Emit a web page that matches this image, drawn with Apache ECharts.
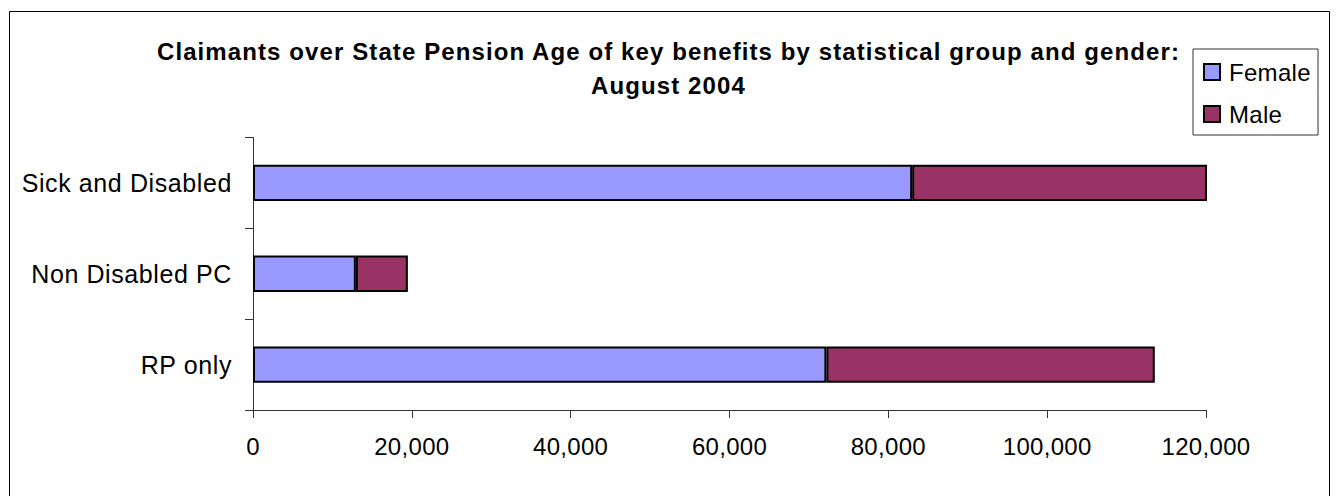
<!DOCTYPE html>
<html>
<head>
<meta charset="utf-8">
<script src="https://cdn.jsdelivr.net/npm/echarts@6/dist/echarts.min.js"></script>
<style>
html,body{margin:0;padding:0;background:#fff;}
#chart{width:1337px;height:496px;}
#chart text{letter-spacing:0.3px;}
</style>
</head>
<body>
<div id="chart"></div>
<script>
var categories = ['RP only', 'Non Disabled PC', 'Sick and Disabled'];
var femaleValues = [72200, 12950, 83000];
var maleValues = [41350, 6550, 38000];
var seriesNames = ['Female', 'Male'];
var xTicks = {min: 0, max: 120000, interval: 20000};
var titleLines = ['Claimants over State Pension Age of key benefits by statistical group and gender:', 'August 2004'];

var chart = echarts.init(document.getElementById('chart'), null, {renderer: 'svg'});
var font = 'Liberation Sans, Arial, sans-serif';
var option = {
  backgroundColor: '#fff',
  animation: false,
  textStyle: {fontFamily: font},
  title: {
    text: titleLines.join('\n'),
    left: 'center',
    top: 29,
    textStyle: {fontFamily: font, fontSize: 24, fontWeight: 'bold', color: '#000', lineHeight: 34}
  },
  legend: {
    orient: 'vertical',
    left: 1193,
    top: 49,
    width: 128,
    padding: [11, 9, 9, 10],
    itemGap: 18,
    itemWidth: 16,
    itemHeight: 16,
    icon: 'rect',
    borderColor: '#333',
    borderWidth: 1,
    backgroundColor: '#fff',
    textStyle: {fontFamily: font, fontSize: 24, color: '#000', padding: [0, 0, 0, 4]},
    data: seriesNames
  },
  graphic: [{
    type: 'rect',
    shape: {x: 9.5, y: 11.5, width: 1320, height: 500},
    style: {fill: 'none', stroke: '#000', lineWidth: 1},
    silent: true,
    z: -1
  }],
  grid: {left: 253, right: 131, top: 137.5, bottom: 86, containLabel: false},
  xAxis: {
    type: 'value',
    min: xTicks.min,
    max: xTicks.max,
    interval: xTicks.interval,
    axisLine: {show: true, lineStyle: {color: '#333', width: 1}},
    axisTick: {show: true, length: 8, lineStyle: {color: '#333'}},
    splitLine: {show: false},
    axisLabel: {
      fontFamily: font, fontSize: 24, color: '#000', margin: 24,
      formatter: function (v) { return v.toLocaleString('en-US'); }
    }
  },
  yAxis: {
    type: 'category',
    data: categories,
    axisLine: {show: true, lineStyle: {color: '#333', width: 1}},
    axisTick: {show: true, length: 8, lineStyle: {color: '#333'}},
    axisLabel: {fontFamily: font, fontSize: 25, color: '#000', margin: 21}
  },
  series: [{
    name: seriesNames[0],
    type: 'bar',
    stack: 'total',
    barWidth: '40%',
    data: femaleValues,
    itemStyle: {color: '#9999FF', borderColor: '#000', borderWidth: 2}
  }, {
    name: seriesNames[1],
    type: 'bar',
    stack: 'total',
    barWidth: '40%',
    data: maleValues,
    itemStyle: {color: '#993366', borderColor: '#000', borderWidth: 2}
  }]
};
chart.setOption(option);
function spaceText() {
  var texts = document.querySelectorAll('#chart text');
  texts.forEach(function (t) {
    var s = t.textContent || '';
    if (s.indexOf('Claimants') === 0 || s.indexOf('August') === 0) {
      t.style.letterSpacing = '1.1px';
    } else if (categories.indexOf(s) >= 0) {
      t.style.letterSpacing = '0.6px';
    }
  });
}
spaceText();
chart.on('finished', spaceText);
</script>
</body>
</html>
